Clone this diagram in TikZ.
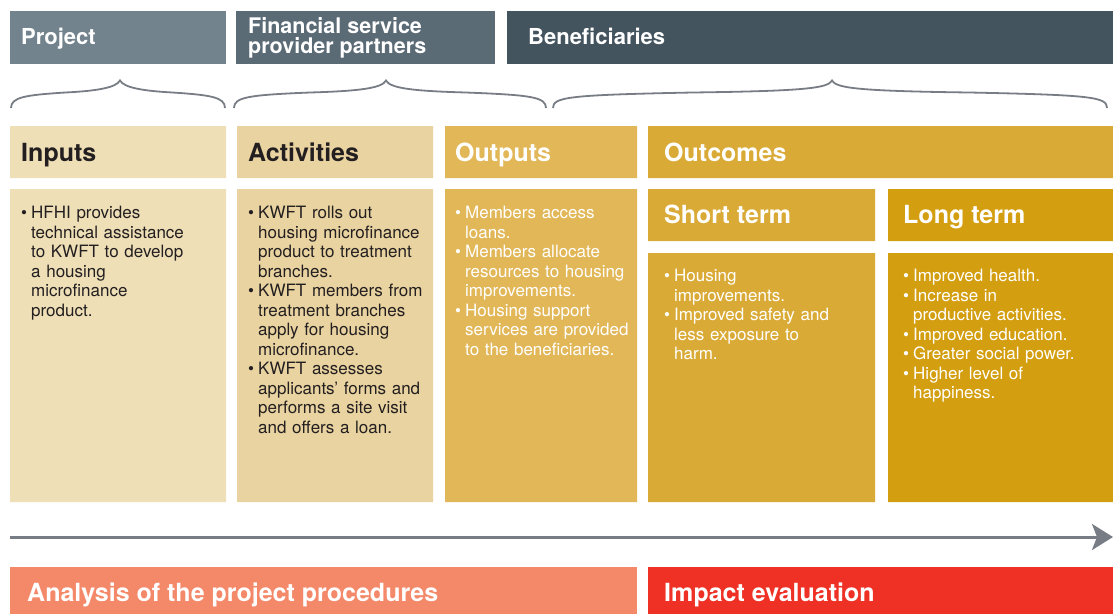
\documentclass[tikz,border=0pt]{standalone}
\usepackage{fontspec}
\setmainfont{TeX Gyre Heros}
\usetikzlibrary{arrows.meta}
\definecolor{projgray}{HTML}{73838E}
\definecolor{fspgray}{HTML}{5B6B76}
\definecolor{benefgray}{HTML}{44545F}
\definecolor{inputcol}{HTML}{EEDFB7}
\definecolor{activcol}{HTML}{E9D3A0}
\definecolor{outputcol}{HTML}{E2B758}
\definecolor{outcomecol}{HTML}{DAAA37}
\definecolor{longcol}{HTML}{D39E0F}
\definecolor{analysiscol}{HTML}{F4896A}
\definecolor{impactcol}{HTML}{EE3124}
\definecolor{linegray}{HTML}{777C85}
\definecolor{darktext}{HTML}{231F20}
\newcommand\litem{\par\hangindent=10pt\hangafter=1\noindent\makebox[10pt][l]{\textbullet}}

\begin{document}
\begin{tikzpicture}[x=1pt,y=-1pt,
  head/.style={anchor=base west,inner sep=0pt,text=white,font=\bfseries\fontsize{22}{20}\selectfont},
  title/.style={anchor=base west,inner sep=0pt,text=white,font=\bfseries\fontsize{25}{28}\selectfont},
  body/.style={anchor=base west,inner sep=0pt,text width=200pt,align=left,text=white,font=\fontsize{17}{19.5}\selectfont},
  bracestroke/.style={draw=linegray,line width=1.8pt}]
\useasboundingbox (0,0) rectangle (1113,614);
% header bars
\fill[projgray] (10,11) rectangle (226,64);
\fill[fspgray] (236,11) rectangle (495,64);
\fill[benefgray] (507,11) rectangle (1113,64);
\node[head] (project) at (21,44) {Project};
\node[head,font=\bfseries\fontsize{21.5}{20}\selectfont] (fsp top) at (248,33) {Financial service};
\node[head,font=\bfseries\fontsize{21.5}{20}\selectfont] (fsp bottom) at (248,53) {provider partners};
\node[head] (benef) at (528,44) {Beneficiaries};
% braces
\foreach \l/\t/\r in {11/120/225, 234/386/546, 553/832/1107}
  \draw[bracestroke] (\l,108) .. controls (\l,97) and (\l+15,95) .. ({(\l+\t)/2},92.5)
    .. controls ({\t-25},91) and ({\t-4},88) .. (\t,80.5)
    .. controls ({\t+4},88) and ({\t+25},91) .. ({(\t+\r)/2},92.5)
    .. controls (\r-15,95) and (\r,97) .. (\r,108);
% columns
\fill[inputcol] (10,126) rectangle (226,178) (10,189) rectangle (226,502);
\fill[activcol] (237,126) rectangle (433,178) (237,189) rectangle (433,502);
\fill[outputcol] (445,126) rectangle (637,178) (445,189) rectangle (637,502);
\fill[outcomecol] (648,126) rectangle (1113,178) (648,189) rectangle (875,241) (648,253) rectangle (875,502);
\fill[longcol] (888,189) rectangle (1113,241) (888,253) rectangle (1113,502);
\node[title,text=darktext] (inputs) at (21,161.5) {Inputs};
\node[title,text=darktext] (activities) at (248,161.5) {Activities};
\node[title] (outputs) at (455,161.5) {Outputs};
\node[title] (outcomes) at (664,161.5) {Outcomes};
\node[title] (short) at (664,223) {Short term};
\node[title] (long) at (903,223) {Long term};
\node[body,text=darktext] (inputs text) at (21,199) {\litem HFHI provides\break technical assistance\break to KWFT to develop\break a housing\break microfinance\break product.\par};
\node[body,text=darktext] (activities text) at (248,199) {\litem KWFT rolls out\break housing microfinance\break product to treatment\break branches.
  \litem KWFT members from\break treatment branches\break apply for housing\break microfinance.
  \litem KWFT assesses\break applicants’ forms and\break performs a site visit\break and offers a loan.\par};
\node[body] (outputs text) at (455,199) {\litem Members access\break loans.
  \litem Members allocate\break resources to housing\break improvements.
  \litem Housing support\break services are provided\break to the beneficiaries.\par};
\node[body] (short text) at (664,262) {\litem Housing\break improvements.
  \litem Improved safety and\break less exposure to\break harm.\par};
\node[body] (long text) at (903,262) {\litem Improved health.
  \litem Increase in\break productive activities.
  \litem Improved education.
  \litem Greater social power.
  \litem Higher level of\break happiness.\par};
% time line
\coordinate (tl start) at (10,537);
\coordinate (tl end) at (1113,537);
\draw[linegray,line width=3pt,-{Stealth[length=21pt,width=26pt,inset=5pt]}] (tl start) -- (tl end);
% evaluation bars
\fill[analysiscol] (10,567) rectangle (637,614);
\fill[impactcol] (648,567) rectangle (1113,614);
\node[title] (analysis) at (27,601) {Analysis of the project procedures};
\node[title] (impact) at (664,601) {Impact evaluation};
\end{tikzpicture}
\end{document}
